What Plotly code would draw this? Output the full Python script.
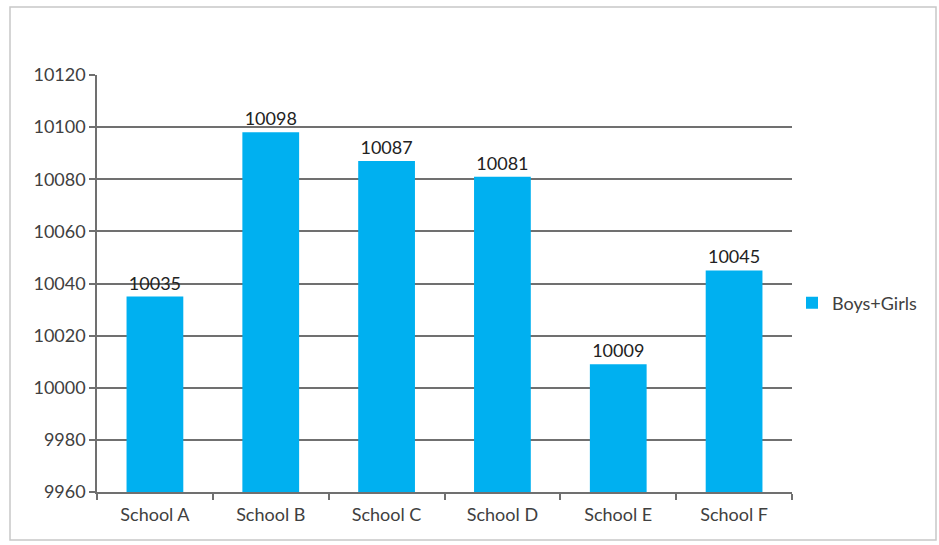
import plotly.graph_objects as go

categories = ["School A", "School B", "School C", "School D", "School E", "School F"]
values = [10035, 10098, 10087, 10081, 10009, 10045]
series_name = "Boys+Girls"
y_ticks = [9960, 9980, 10000, 10020, 10040, 10060, 10080, 10100, 10120]

FONT = "Lato"
FS = 18
fig = go.Figure()
fig.add_trace(go.Bar(
    x=categories, y=values, name=series_name,
    marker=dict(color="#00B0F0", line=dict(width=0)),
    text=[str(v) for v in values], textposition="outside",
    textfont=dict(family=FONT, size=FS, color="#222222"),
    cliponaxis=False, showlegend=True,
))

L, R, T, B = 97, 147, 75, 53
W, H = 939, 545
pw, ph = W - L - R, H - T - B

fig.update_layout(
    width=W, height=H,
    margin=dict(l=L, r=R, t=T, b=B, pad=0),
    paper_bgcolor="white", plot_bgcolor="white",
    bargap=0.51,
    font=dict(family=FONT, size=FS, color="#404040"),
    showlegend=True,
    legend=dict(x=1.0, xanchor="left", y=0.453, yanchor="middle",
                font=dict(family=FONT, size=FS, color="#404040"),
                bgcolor="rgba(0,0,0,0)", itemwidth=30),
    xaxis=dict(
        type="category", tickson="boundaries", ticks="outside", ticklen=6,
        tickcolor="#707070", tickwidth=1.5,
        showline=True, linecolor="#707070", linewidth=1.5,
        showgrid=False, ticklabelstandoff=6,
        tickfont=dict(family=FONT, size=FS, color="#404040"),
    ),
    yaxis=dict(
        range=[9960, 10120], tickvals=y_ticks, ticktext=[str(t) for t in y_ticks],
        ticks="outside", ticklen=6, tickcolor="#707070", tickwidth=1.5,
        showline=True, linecolor="#707070", linewidth=1.5,
        showgrid=True, gridcolor="#707070", gridwidth=1.5, zeroline=False,
        tickfont=dict(family=FONT, size=FS, color="#404040"),
    ),
    shapes=[dict(
        type="rect", xref="paper", yref="paper",
        x0=(10 - L) / pw, x1=(936 - L) / pw,
        y0=(H - B - 540) / ph, y1=(H - B - 7) / ph,
        line=dict(color="#c8c8c8", width=1.5), fillcolor="rgba(0,0,0,0)",
        layer="below",
    )],
)

fig.write_html("out.html")
